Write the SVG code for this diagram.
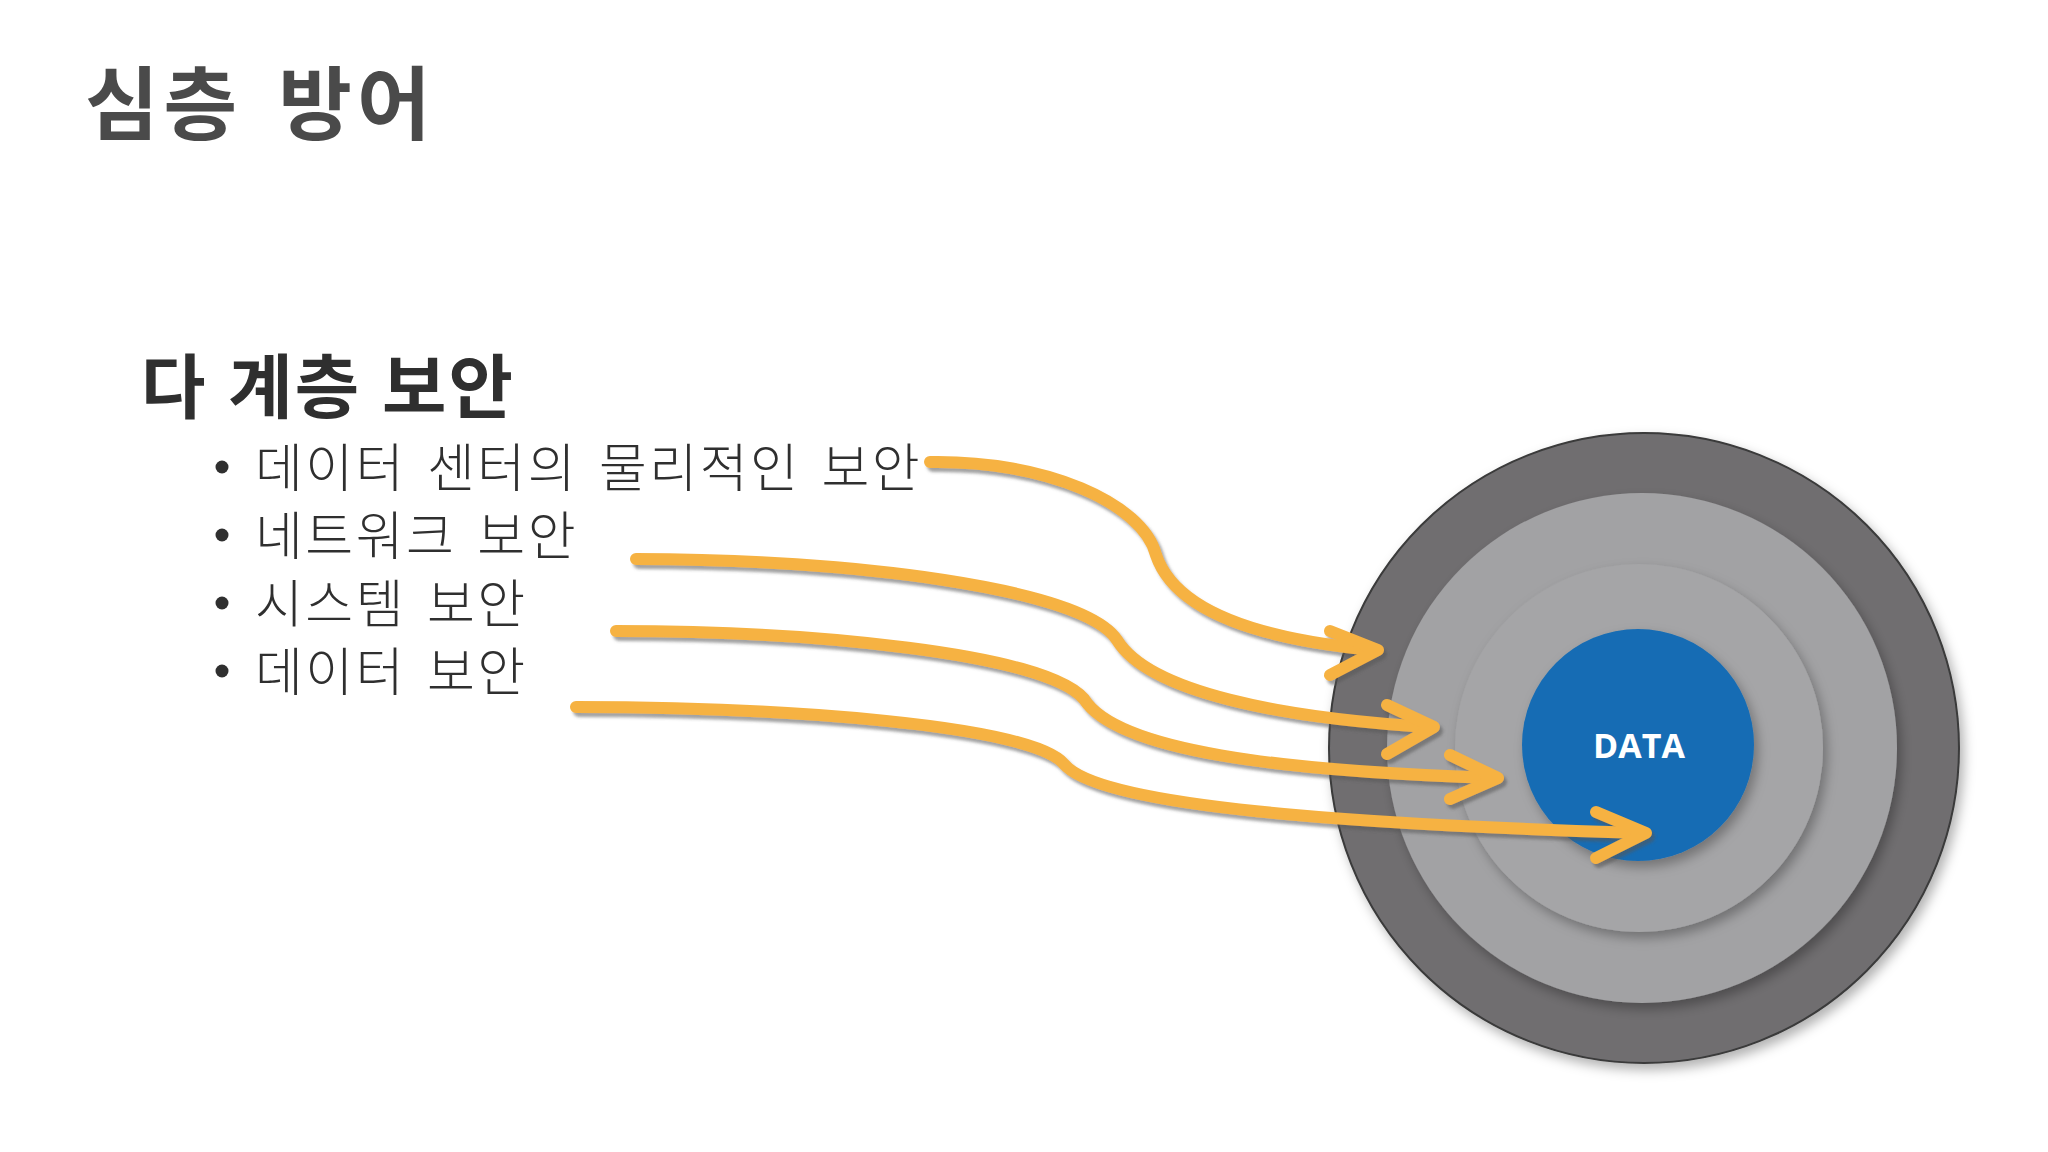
<svg xmlns="http://www.w3.org/2000/svg" width="2048" height="1152" viewBox="0 0 2048 1152">
<defs>
<style>
.title{font-family:"Noto Sans CJK KR","Noto Sans",sans-serif;font-weight:700;fill:#4a4a4a;letter-spacing:5px;word-spacing:13px}
.sub{font-family:"Noto Sans CJK KR","Noto Sans",sans-serif;font-weight:700;fill:#2f2f2f;letter-spacing:2px;word-spacing:3px}
.item{font-family:"Noto Sans CJK KR","Noto Sans",sans-serif;font-weight:300;fill:#2f2f2f;font-size:52px;letter-spacing:2.5px;word-spacing:7px}
.dot{fill:#2f2f2f}
.arrow{fill:none;stroke:#f6b243;stroke-width:12;stroke-linecap:round;stroke-linejoin:round}
.data{font-family:"Open Sans","Liberation Sans",sans-serif;font-weight:700;fill:#ffffff;font-size:34px}
</style>
<filter id="cs" x="-20%" y="-20%" width="140%" height="140%">
<feDropShadow dx="4" dy="6" stdDeviation="6" flood-color="#000" flood-opacity="0.3"/>
</filter>
<filter id="as" x="-10%" y="-30%" width="120%" height="160%">
<feDropShadow dx="3" dy="4" stdDeviation="1.5" flood-color="#555" flood-opacity="0.55"/>
</filter>
</defs>
<rect width="2048" height="1152" fill="#ffffff"/>
<g id="title"><text class="title" x="85" y="133" font-size="80">심층 방어</text></g>
<g id="subtitle"><text class="sub" x="141" y="413" font-size="70">다 계층 보안</text></g>
<g id="list">
<circle class="dot" cx="222" cy="467" r="6.5"/>
<text class="item" x="255" y="487">데이터 센터의 물리적인 보안</text>
<circle class="dot" cx="222" cy="535" r="6.5"/>
<text class="item" x="255" y="555">네트워크 보안</text>
<circle class="dot" cx="222" cy="603" r="6.5"/>
<text class="item" x="255" y="623">시스템 보안</text>
<circle class="dot" cx="222" cy="671" r="6.5"/>
<text class="item" x="255" y="691">데이터 보안</text>
</g>
<g id="layers">
<g id="layer-outer"><circle cx="1644" cy="748" r="315" fill="#6f6e70" stroke="#3a3a3a" stroke-width="2" filter="url(#cs)"/></g>
<g id="layer-2"><circle cx="1642" cy="748" r="255" fill="#a2a2a4" filter="url(#cs)"/></g>
<g id="layer-3"><circle cx="1639" cy="748" r="184" fill="#a5a5a7" filter="url(#cs)"/></g>
<g id="data"><circle cx="1638" cy="745" r="116" fill="#156cb4" filter="url(#cs)"/>
<text class="data" x="1639" y="758" text-anchor="middle">DATA</text></g>
</g>
<g id="connectors" filter="url(#as)">
<path class="arrow" d="M930,462 C1045,460 1143,503 1156,555 C1176,614 1267,640 1374,650"/>
<path class="arrow" d="M1330,631 L1378,650 L1330,675"/>
<path class="arrow" d="M636,559 C849,559 1084,588 1117,640 C1149,692 1280,718 1430,727"/>
<path class="arrow" d="M1387,705 L1434,727 L1387,754"/>
<path class="arrow" d="M616,631 C810,631 1045,653 1084,699 C1117,751 1280,771 1493,778"/>
<path class="arrow" d="M1450,755 L1498,778 L1450,799"/>
<path class="arrow" d="M576,707 C784,707 1032,725 1064,764 C1097,803 1306,823 1642,833"/>
<path class="arrow" d="M1596,812 L1646,833 L1596,858"/>
</g>
</svg>
